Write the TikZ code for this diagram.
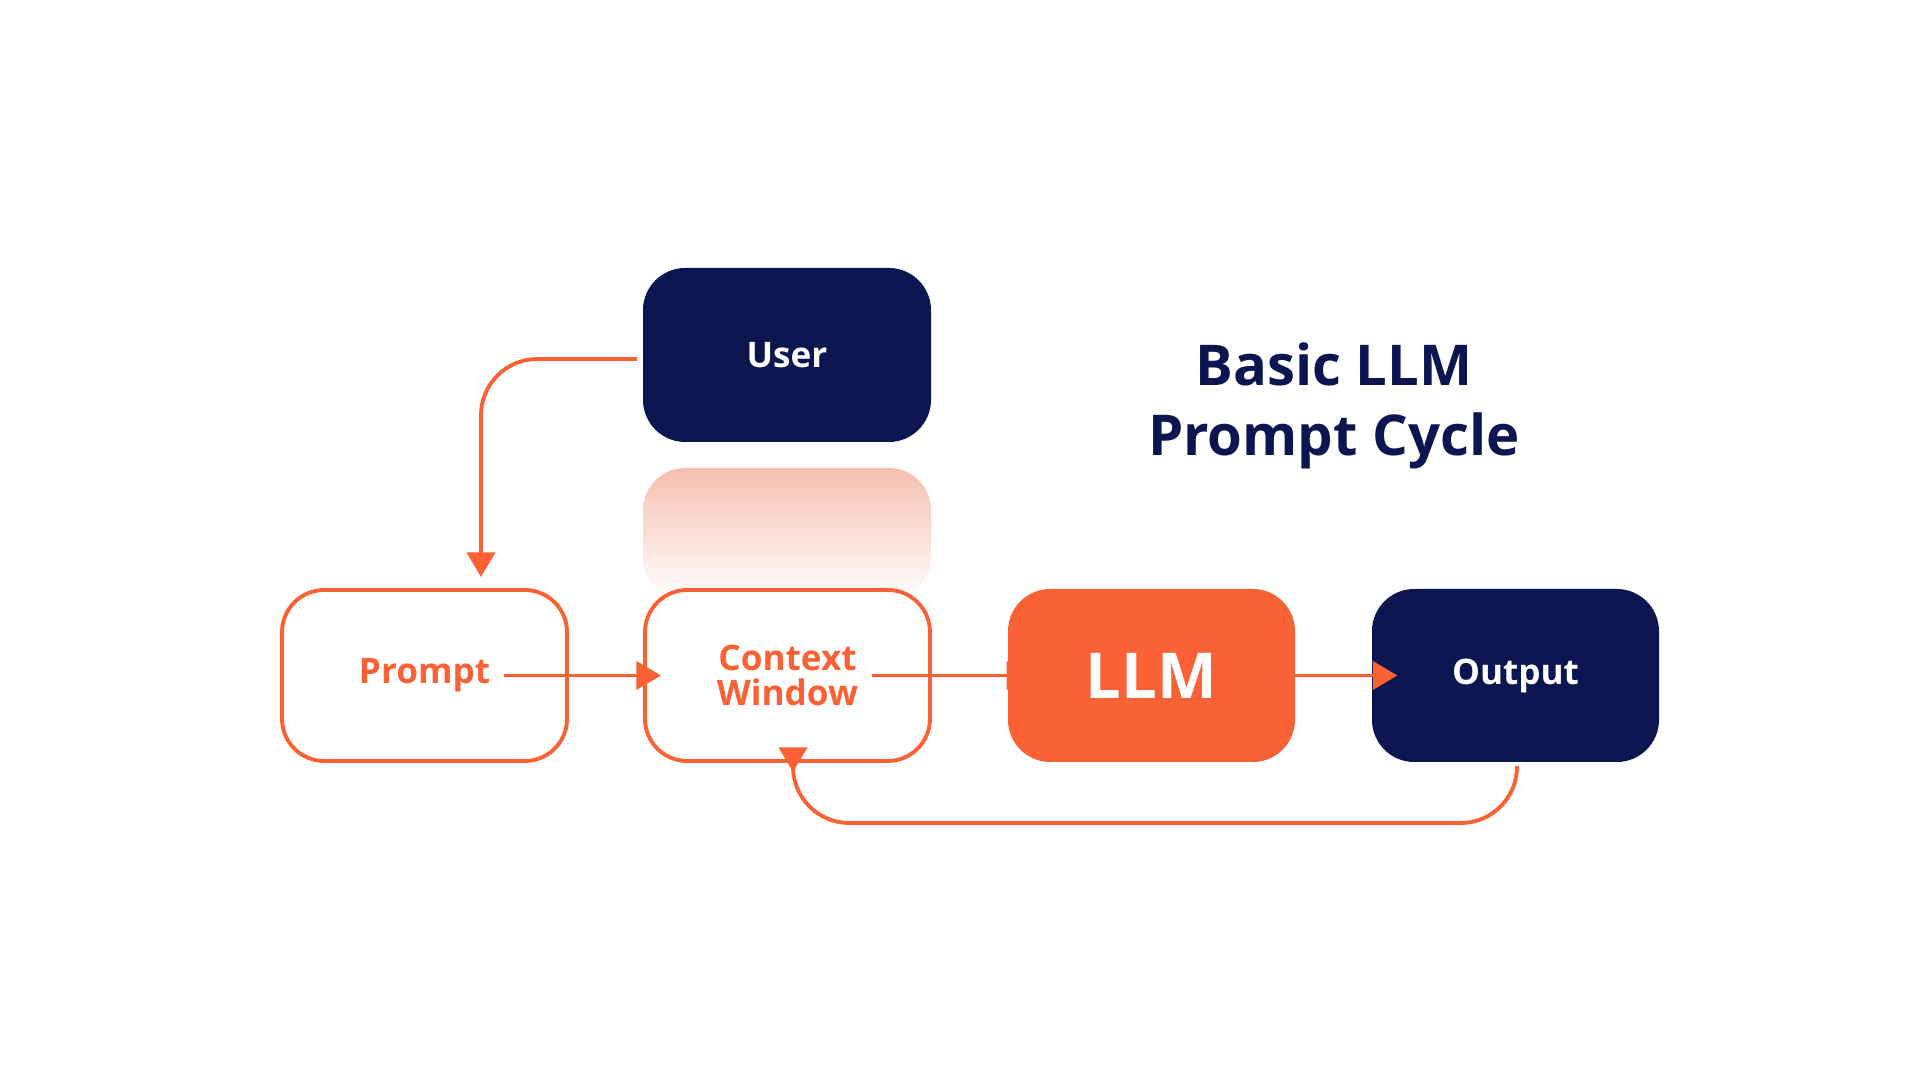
\documentclass[tikz,border=0pt]{standalone}
\usepackage{fontspec}
\setmainfont{Open Sans}
\usetikzlibrary{arrows.meta}
\definecolor{navy}{HTML}{0B1650}
\definecolor{org}{HTML}{FA6135}
\definecolor{pale}{HTML}{F5BFB0}
\begin{document}
\begin{tikzpicture}[x=0.01cm,y=-0.01cm,
  box/.style={draw=org,line width=1.1pt,rounded corners=12pt,fill=white,text=org,font=\fontsize{10}{12}\selectfont\bfseries,align=center},
  dark/.style={fill=navy,rounded corners=12pt,text=white,font=\fontsize{10}{12}\selectfont\bfseries},
  arr/.style={draw=org,line width=1.1pt,-{Triangle[length=7pt,width=8pt]}}]
\useasboundingbox (0,0) rectangle (1920,1080);
\shade[top color=pale,bottom color=white,rounded corners=12pt] (643,468) rectangle (931,600);
\path[dark] (643,268) rectangle node (user) {User} (931,442);
\path[box] (282,590) rectangle node (prompt) {Prompt} (567,761);
\path[box] (645,590) rectangle node (ctx) {Context\\[-2pt]Window} (930,761);
\path[fill=org,rounded corners=12pt] (1008,589) rectangle node[text=white,font=\fontsize{18}{20}\selectfont\bfseries] (llm) {LLM} (1295,762);
\path[dark] (1372,589) rectangle node (out) {Output} (1659,762);
\node[text=navy,font=\fontsize{16}{20}\selectfont\bfseries,align=center] (title) at (1334,406) {Basic LLM\\Prompt Cycle};
\coordinate (ua) at (637,359);
\draw[arr,rounded corners=16pt] (ua) -- (481,359) -- (481,577);
\draw[arr] (prompt.east) -- ([xshift=-12]ctx.west);
\draw[arr] (ctx.east) -- ([xshift=-12]llm.west);
\draw[arr] (llm.east) -- ([xshift=-12]out.west);
\draw[arr,rounded corners=16pt] (1517,766) -- (1517,823) -- (793,823) -- (793,772);
\end{tikzpicture}
\end{document}
